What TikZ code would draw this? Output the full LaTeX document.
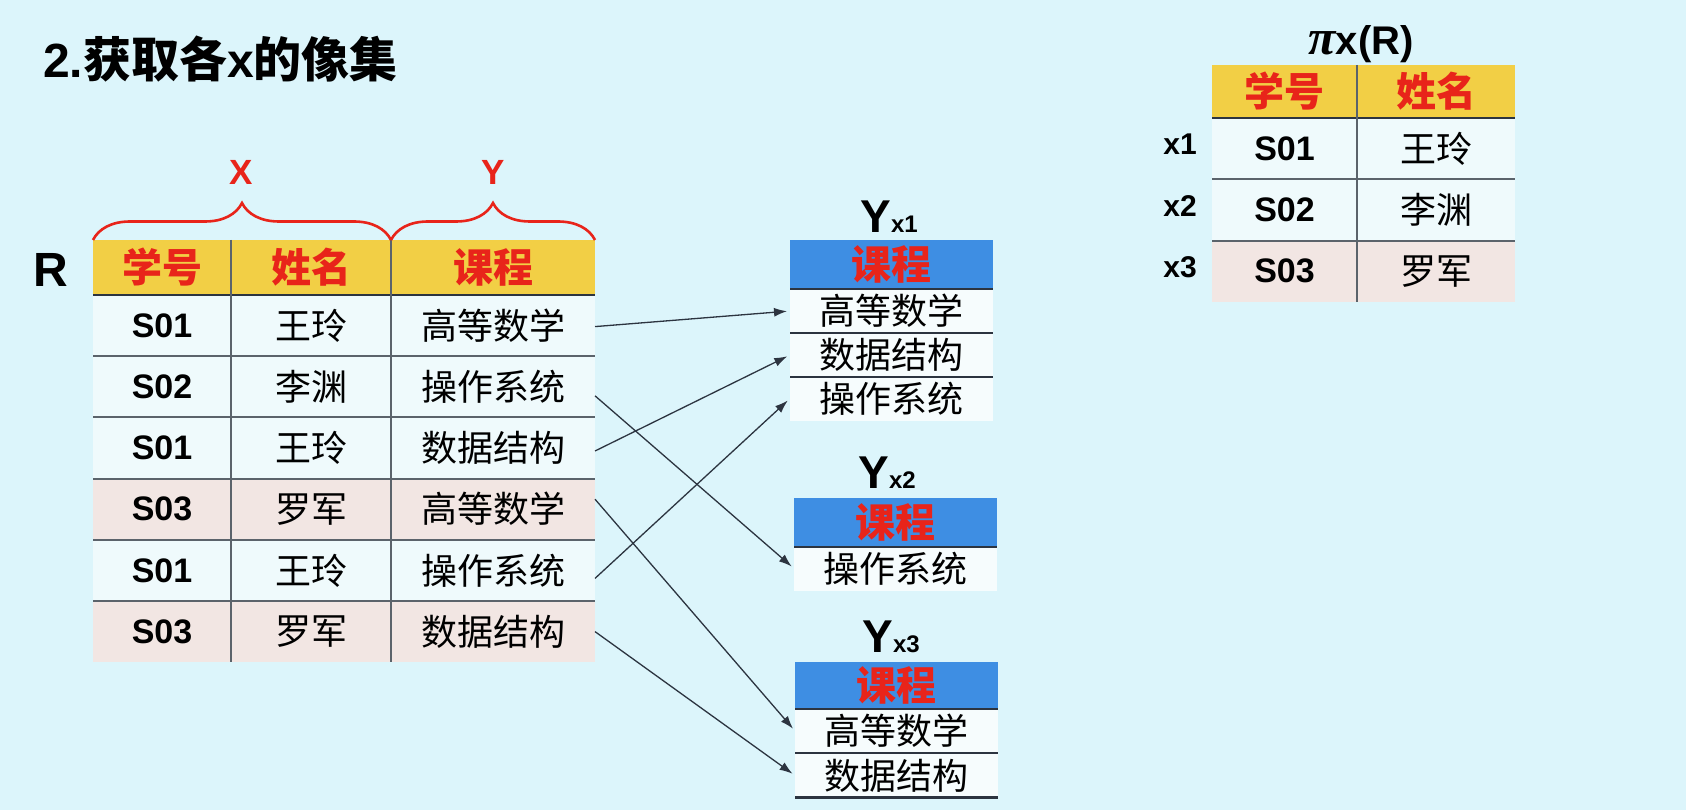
\documentclass[tikz,border=0pt]{standalone}
\usepackage{fontspec}
\setmainfont{Liberation Sans}
\newfontfamily\cjk{Noto Sans CJK SC}
\newfontfamily\greekfont{Liberation Serif}
\usetikzlibrary{arrows.meta,decorations.pathreplacing}
\definecolor{bgc}{HTML}{DCF5FB}
\definecolor{rowc}{HTML}{EFFAFC}
\definecolor{ycellc}{HTML}{F6FCFD}
\definecolor{pinkc}{HTML}{F2E6E3}
\definecolor{hdry}{HTML}{F2CF45}
\definecolor{hdrb}{HTML}{3E8EE3}
\definecolor{redc}{HTML}{E8241A}
\definecolor{linec}{HTML}{5B636B}
\definecolor{darkc}{HTML}{2C3440}

\begin{document}
\begin{tikzpicture}[x=1pt,y=-1pt,
        every node/.style={inner sep=0pt, outer sep=0pt},
        cell/.style={fill=rowc, minimum height=61.2pt},
        idtext/.style={font=\fontsize{34}{34}\selectfont\bfseries},
        zhtext/.style={font=\fontsize{36}{36}\selectfont\cjk},
        yhead/.style={fill=hdry, text=redc, minimum height=55pt,
            font=\fontsize{40}{40}\selectfont\cjk\bfseries},
        bhead/.style={fill=hdrb, text=redc, minimum width=203pt, minimum height=49pt,
            font=\fontsize{40}{40}\selectfont\cjk\bfseries},
        ycell/.style={fill=ycellc, minimum width=203pt, minimum height=44pt,
            font=\fontsize{36}{36}\selectfont\cjk},
        gridline/.style={draw=linec, line width=2pt},
        darkline/.style={draw=darkc, line width=2.4pt},
        link/.style={draw=darkc, line width=1.3pt, -{Latex[length=13pt,width=9pt]}, shorten >=3pt},
        xybrace/.style={draw=redc, line width=2.6pt, decorate,
            decoration={brace, amplitude=37pt}},
        redlbl/.style={text=redc, font=\fontsize{35}{35}\selectfont\bfseries},
        ylbl/.style={anchor=base, font=\fontsize{46}{46}\selectfont\bfseries},
    ]
    \useasboundingbox (0,0) rectangle (1686,810);
    \fill[bgc] (0,0) rectangle (1686,810);

    \node[anchor=base west, font=\fontsize{48}{48}\selectfont\bfseries] (title) at (43,78)
        {2.{\cjk 获取各}x{\cjk 的像集}};

    % relation R
    \node[font=\fontsize{48}{48}\selectfont\bfseries] (rname) at (51,270) {R};
    \node[yhead, minimum width=138pt] (ha) at (162,267.5) {学号};
    \node[yhead, minimum width=160pt] (hb) at (311,267.5) {姓名};
    \node[yhead, minimum width=204pt] (hc) at (493,267.5) {课程};
    \foreach \i/\sid/\nm/\crs/\rc in {1/S01/王玲/高等数学/rowc, 2/S02/李渊/操作系统/rowc,
            3/S01/王玲/数据结构/rowc, 4/S03/罗军/高等数学/pinkc,
            5/S01/王玲/操作系统/rowc, 6/S03/罗军/数据结构/pinkc} {
        \node[cell, fill=\rc, idtext, minimum width=138pt] (ra\i) at (162,{295+61.2*(\i-0.5)}) {\sid};
        \node[cell, fill=\rc, zhtext, minimum width=160pt] (rb\i) at (311,{295+61.2*(\i-0.5)}) {\nm};
        \node[cell, fill=\rc, zhtext, minimum width=204pt] (rc\i) at (493,{295+61.2*(\i-0.5)}) {\crs};
    }
    \draw[darkline] (ha.south west) -- (hc.south east);
    \foreach \i in {1,...,5}
        \draw[gridline] (ra\i.south west) -- (rc\i.south east);
    \draw[gridline] (ha.north east) -- (ra6.south east);
    \draw[gridline] (hb.north east) -- (rb6.south east);

    \draw[xybrace] (ha.north west) -- (hb.north east);
    \draw[xybrace] (hc.north west) -- (hc.north east);
    \node[redlbl] (xlab) at (241,172) {X};
    \node[redlbl] (ylab) at (493,172) {Y};

    % image sets
    \node[ylbl] (lx1) at (889,233) {Y{\fontsize{24}{24}\selectfont x1}};
    \node[bhead] (ya0) at (891.5,264.5) {课程};
    \node[ycell] (ya1) at (891.5,311) {高等数学};
    \node[ycell] (ya2) at (891.5,355) {数据结构};
    \node[ycell] (ya3) at (891.5,398.5) {操作系统};
    \foreach \n in {ya0,ya1,ya2}
        \draw[darkline] (\n.south west) -- (\n.south east);

    \node[ylbl] (lx2) at (887,488) {Y{\fontsize{24}{24}\selectfont x2}};
    \node[bhead] (yb0) at (895.5,522.5) {课程};
    \node[ycell] (yb1) at (895.5,568.5) {操作系统};
    \draw[darkline] (yb0.south west) -- (yb0.south east);

    \node[ylbl] (lx3) at (891,652) {Y{\fontsize{24}{24}\selectfont x3}};
    \node[bhead, minimum height=47pt] (yc0) at (896.5,685.5) {课程};
    \node[ycell] (yc1) at (896.5,731) {高等数学};
    \node[ycell] (yc2) at (896.5,775.5) {数据结构};
    \foreach \n in {yc0,yc1,yc2}
        \draw[darkline] (\n.south west) -- (\n.south east);

    \draw[link] ([yshift=-1pt]rc1.east) -- (ya1.west);
    \draw[link] ([yshift=-9pt]rc2.east) -- (yb1.west);
    \draw[link] ([yshift=-3pt]rc3.east) -- (ya2.west);
    \draw[link] ([yshift=10pt]rc4.east) -- (yc1.west);
    \draw[link] ([yshift=-8pt]rc5.east) -- (ya3.west);
    \draw[link] (rc6.east) -- (yc2.west);

    % projection on X
    \node[anchor=base, font=\fontsize{40}{40}\selectfont\bfseries] (ptitle) at (1361,55)
        {{\greekfont\itshape\fontsize{50}{50}\selectfont π}x(R)};
    \node[yhead, minimum width=145pt, minimum height=53pt] (pa) at (1284.5,91.5) {学号};
    \node[yhead, minimum width=158pt, minimum height=53pt] (pb) at (1436,91.5) {姓名};
    \foreach \i/\sid/\nm/\rc in {1/S01/王玲/rowc, 2/S02/李渊/rowc, 3/S03/罗军/pinkc} {
        \node[cell, fill=\rc, idtext, minimum width=145pt] (pa\i) at (1284.5,{118+61.3*(\i-0.5)}) {\sid};
        \node[cell, fill=\rc, zhtext, minimum width=158pt] (pb\i) at (1436,{118+61.3*(\i-0.5)}) {\nm};
        \node[font=\fontsize{30}{30}\selectfont\bfseries] (px\i) at (1180,{114+61.3*(\i-0.5)}) {x\i};
    }
    \draw[darkline] (pa.south west) -- (pb.south east);
    \draw[gridline] (pa1.south west) -- (pb1.south east);
    \draw[gridline] (pa2.south west) -- (pb2.south east);
    \draw[gridline] (pa.north east) -- (pa3.south east);
\end{tikzpicture}
\end{document}
